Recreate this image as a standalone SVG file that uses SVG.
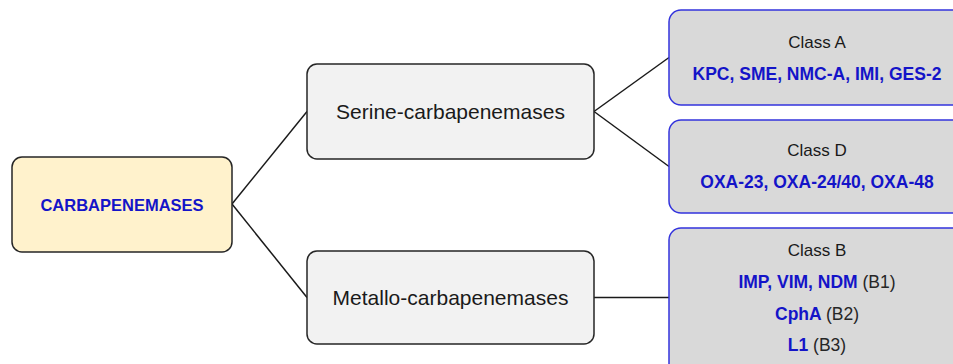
<svg xmlns="http://www.w3.org/2000/svg" width="953" height="364" viewBox="0 0 953 364">
<style>
.bx{stroke:#262626;stroke-width:1.5}
.cls{fill:#d9d9d9;stroke:#3333dd;stroke-width:1.5}
.t{font-family:"Liberation Sans",Arial,sans-serif;fill:#1a1a1a;text-anchor:middle}
.b{font-weight:bold;fill:#1414c8}
.g{font-weight:normal;fill:#262626}
.conn line{stroke:#1a1a1a;stroke-width:1.5}
</style>
<rect width="953" height="364" fill="#ffffff"/>
<g class="conn">
<line x1="232" y1="204" x2="307" y2="111.5"/>
<line x1="232" y1="204" x2="307" y2="297.5"/>
<line x1="594" y1="111.5" x2="669" y2="57.5"/>
<line x1="594" y1="111.5" x2="669" y2="166.5"/>
<line x1="594" y1="297.5" x2="669" y2="297.5"/>
</g>
<g id="carbapenemases">
<rect class="bx" x="12" y="157" width="220" height="95" rx="10" fill="#fff2cc"/>
<text class="t b" x="122" y="211" font-size="16.5">CARBAPENEMASES</text>
</g>
<g id="serine">
<rect class="bx" x="307" y="64" width="287" height="95" rx="10" fill="#f2f2f2"/>
<text class="t" x="450.5" y="118.5" font-size="21">Serine-carbapenemases</text>
</g>
<g id="metallo">
<rect class="bx" x="307" y="251" width="287" height="93" rx="10" fill="#f2f2f2"/>
<text class="t" x="450.5" y="304.5" font-size="21">Metallo-carbapenemases</text>
</g>
<g id="classA">
<rect class="cls" x="669" y="10" width="300" height="95" rx="12"/>
<text class="t" x="817" y="48" font-size="17">Class A</text>
<text class="t b" x="817" y="80" font-size="17.5">KPC, SME, NMC-A, IMI, GES-2</text>
</g>
<g id="classD">
<rect class="cls" x="669" y="120" width="300" height="93" rx="12"/>
<text class="t" x="817" y="156" font-size="17">Class D</text>
<text class="t b" x="817" y="188" font-size="17.5">OXA-23, OXA-24/40, OXA-48</text>
</g>
<g id="classB">
<rect class="cls" x="669" y="228" width="300" height="150" rx="12"/>
<text class="t" x="817" y="256" font-size="17">Class B</text>
<text class="t b" x="817" y="288" font-size="17.5">IMP, VIM, NDM <tspan class="g">(B1)</tspan></text>
<text class="t b" x="817" y="320" font-size="17.5">CphA <tspan class="g">(B2)</tspan></text>
<text class="t b" x="817" y="351" font-size="17.5">L1 <tspan class="g">(B3)</tspan></text>
</g>
</svg>
